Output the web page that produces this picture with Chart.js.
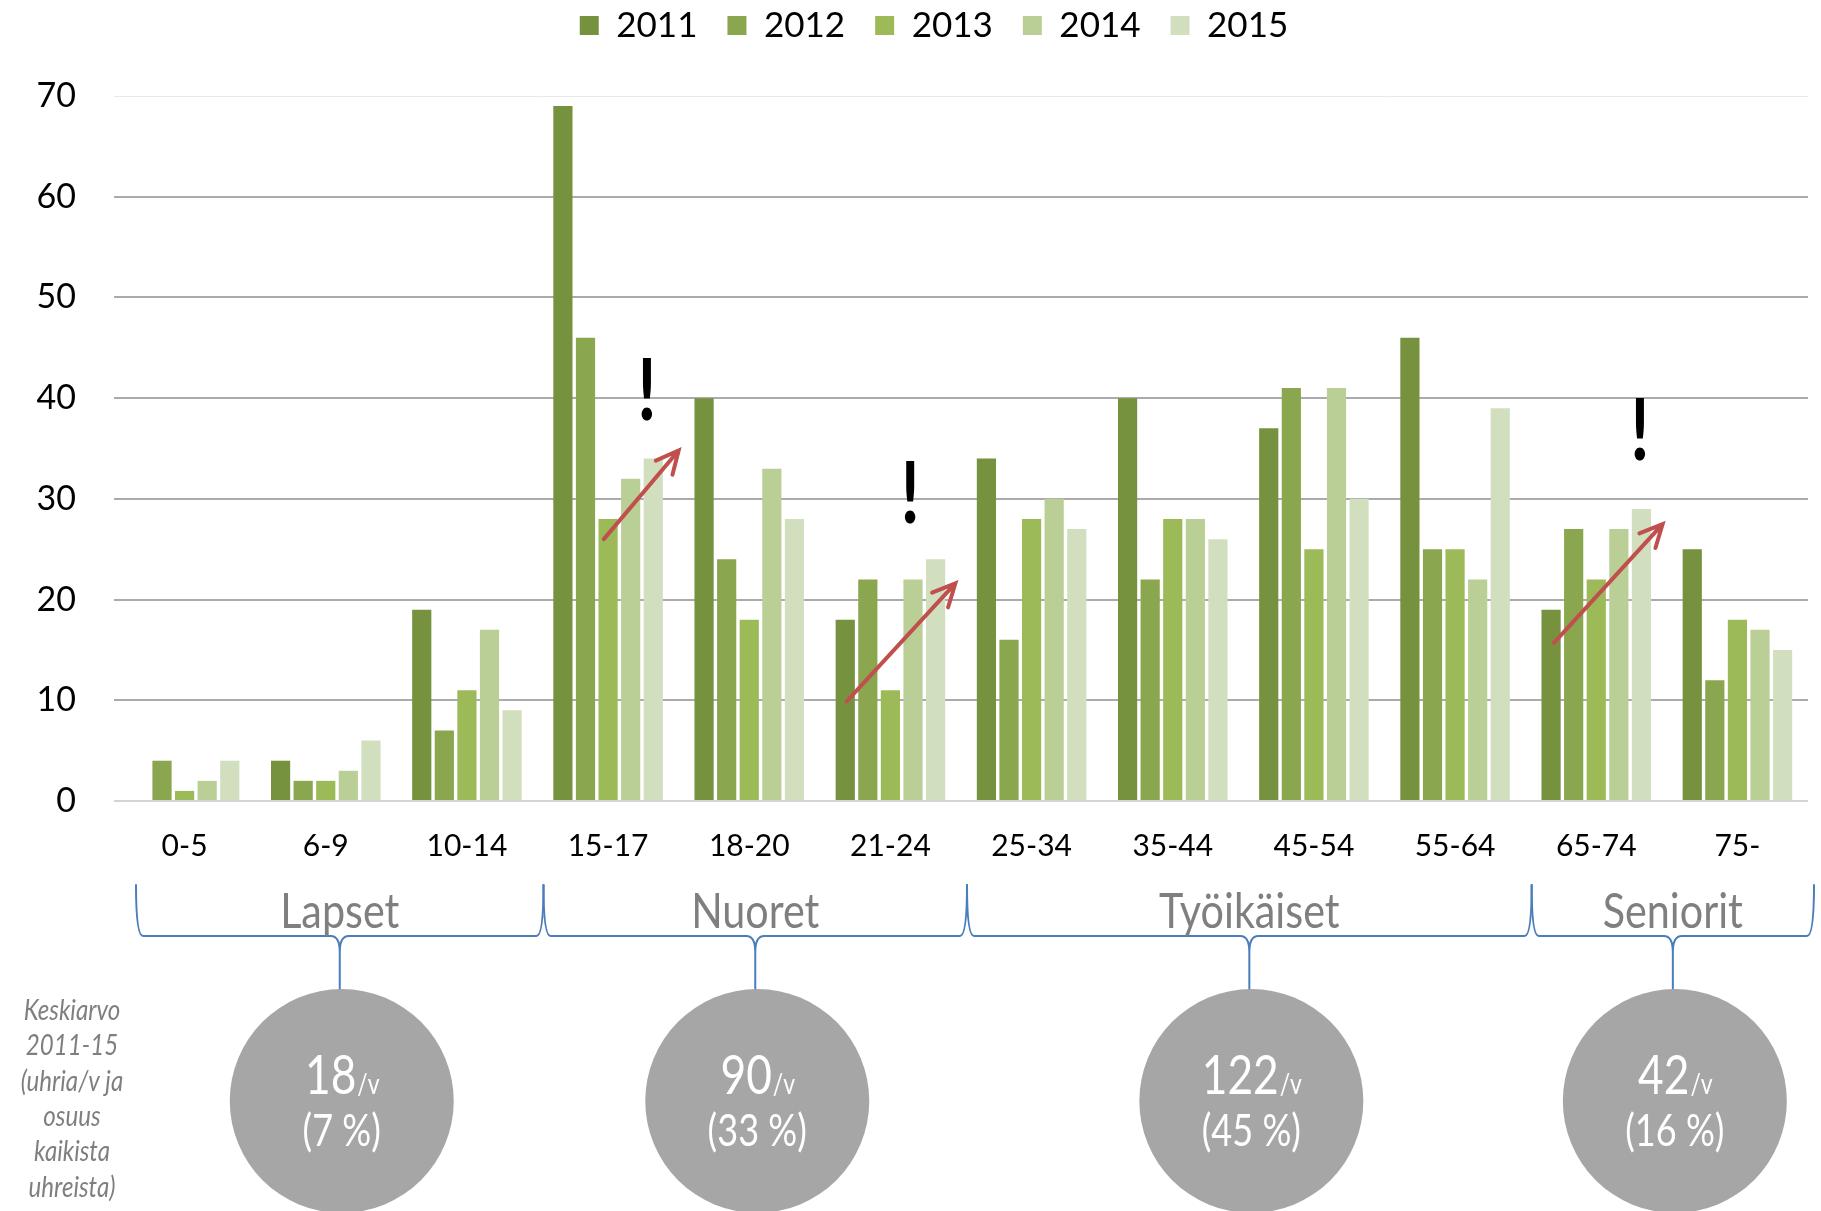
<!DOCTYPE html>
<html>
<head>
<meta charset="utf-8">
<script src="https://cdn.jsdelivr.net/npm/chart.js@4.4.1/dist/chart.umd.min.js"></script>
<style>
  html, body { margin: 0; padding: 0; background: #fff; }
  #wrap { width: 1821px; height: 1211px; position: relative; }
</style>
</head>
<body>
<div id="wrap"><canvas id="chart"></canvas></div>
<script>
// ikäryhmät ja vuodet
const ageGroups = ['0-5', '6-9', '10-14', '15-17', '18-20', '21-24', '25-34', '35-44', '45-54', '55-64', '65-74', '75-'];
const years = ['2011', '2012', '2013', '2014', '2015'];

// uhrit / ikäryhmä / vuosi
const v2011 = [0, 4, 19, 69, 40, 18, 34, 40, 37, 46, 19, 25];
const v2012 = [4, 2, 7, 46, 24, 22, 16, 22, 41, 25, 27, 12];
const v2013 = [1, 2, 11, 28, 18, 11, 28, 28, 25, 25, 22, 18];
const v2014 = [2, 3, 17, 32, 33, 22, 30, 28, 41, 22, 27, 17];
const v2015 = [4, 6, 9, 34, 28, 24, 27, 26, 30, 39, 29, 15];

const yMax = 70;
const yStep = 10;

// ryhmät ja keskiarvot
const groupNames = ['Lapset', 'Nuoret', 'Työikäiset', 'Seniorit'];
const groupFirst = [0, 3, 6, 10];
const groupLast = [2, 5, 9, 11];
const groupAvg = ['18', '90', '122', '42'];
const groupShare = ['(7 %)', '(33 %)', '(45 %)', '(16 %)'];
const noteLines = ['Keskiarvo', '2011-15', '(uhria/v ja', 'osuus', 'kaikista', 'uhreista)'];

// nuolet (kategoria-indeksi, arvo) ja huutomerkit
const arrowFrom = [[2.97, 26], [4.69, 9.9], [9.7, 15.7]];
const arrowTo = [[3.5, 34.8], [5.46, 21.6], [10.47, 27.5]];
const bangAt = [[3.275, 37.8], [5.14, 27.6], [10.31, 33.9]];

const yearColors = ['#77923f', '#8aa64f', '#9cbb58', '#bacf96', '#d2dfbe'];
const allValues = [v2011, v2012, v2013, v2014, v2015];

// kapeampi teksti (alkuperäinen fontti on kapea)
function narrowText(ctx, text, x, y, font, sx) {
    ctx.save();
    ctx.font = font;
    ctx.translate(x, y);
    ctx.scale(sx, 1);
    ctx.fillText(text, 0, 0);
    ctx.restore();
}

// legendalle lisää tilaa alapuolelle ja siirto oikealle
const legendGap = {
    id: 'legendGap',
    beforeInit(chart) {
        const fit = chart.legend.fit;
        chart.legend.fit = function () {
            fit.bind(chart.legend)();
            this.height += 43;
        };
    },
    afterLayout(chart) {
        chart.legend.left += 30;
        chart.legend.right += 30;
    }
};

const extras = {
    id: 'extras',
    afterDraw(chart) {
        const ctx = chart.ctx;
        const xs = chart.scales.x;
        const ys = chart.scales.y;
        ctx.save();

        // nuolet
        ctx.strokeStyle = '#c0504d';
        ctx.lineWidth = 4;
        ctx.lineCap = 'round';
        arrowFrom.forEach((f, i) => {
            const x0 = xs.getPixelForValue(f[0]), y0 = ys.getPixelForValue(f[1]);
            const x1 = xs.getPixelForValue(arrowTo[i][0]), y1 = ys.getPixelForValue(arrowTo[i][1]);
            const a = Math.atan2(y1 - y0, x1 - x0);
            ctx.beginPath();
            ctx.moveTo(x0, y0);
            ctx.lineTo(x1, y1);
            ctx.moveTo(x1 - 25 * Math.cos(a - 0.45), y1 - 25 * Math.sin(a - 0.45));
            ctx.lineTo(x1, y1);
            ctx.lineTo(x1 - 25 * Math.cos(a + 0.45), y1 - 25 * Math.sin(a + 0.45));
            ctx.stroke();
        });

        // huutomerkit
        ctx.fillStyle = '#000';
        ctx.textAlign = 'center';
        ctx.textBaseline = 'alphabetic';
        bangAt.forEach(b => {
            narrowText(ctx, '!', xs.getPixelForValue(b[0]), ys.getPixelForValue(b[1]), 'bold 86px Lato', 0.8);
        });

        // aaltosulkeet, ryhmänimet ja pallot
        groupNames.forEach((name, i) => {
            let x0 = xs.getPixelForValue(groupFirst[i] - 0.5) + 6;
            if (i === 0) x0 += 16;
            const x1 = xs.getPixelForValue(groupLast[i] + 0.5) + 6;
            const xm = (x0 + x1) / 2;
            const top = 885, mid = 936, cusp = 952;

            ctx.strokeStyle = '#4a7ebb';
            ctx.lineWidth = 2;
            ctx.beginPath();
            ctx.moveTo(x0, top);
            ctx.quadraticCurveTo(x0, mid, x0 + 7, mid);
            ctx.lineTo(xm - 9, mid);
            ctx.quadraticCurveTo(xm, mid, xm, cusp);
            ctx.quadraticCurveTo(xm, mid, xm + 9, mid);
            ctx.lineTo(x1 - 7, mid);
            ctx.quadraticCurveTo(x1, mid, x1, top);
            ctx.moveTo(xm, cusp);
            ctx.lineTo(xm, 990);
            ctx.stroke();

            ctx.fillStyle = '#7f7f7f';
            ctx.textAlign = 'center';
            narrowText(ctx, name, xm, 928, '48px Lato', 0.86);

            const cx = xm + 2, cy = 1101;
            ctx.fillStyle = '#a6a6a6';
            ctx.beginPath();
            ctx.arc(cx, cy, 112, 0, Math.PI * 2);
            ctx.fill();

            ctx.fillStyle = '#fff';
            const sx = 0.82;
            ctx.font = '54px Lato';
            const w1 = ctx.measureText(groupAvg[i]).width * sx;
            ctx.font = '28px Lato';
            const w2 = ctx.measureText('/v').width * sx;
            const left = cx - (w1 + w2) / 2;
            ctx.textAlign = 'left';
            narrowText(ctx, groupAvg[i], left, 1094, '54px Lato', sx);
            narrowText(ctx, '/v', left + w1 + 1, 1094, '28px Lato', sx);
            ctx.textAlign = 'center';
            narrowText(ctx, groupShare[i], cx, 1146, '44px Lato', sx);
        });

        // selite vasemmalla
        ctx.fillStyle = '#7f7f7f';
        ctx.textAlign = 'center';
        ctx.textBaseline = 'middle';
        noteLines.forEach((t, i) => narrowText(ctx, t, 72, 1011 + i * 35.3, 'italic 28px Lato', 0.86));

        ctx.restore();
    }
};

const chart = new Chart(document.getElementById('chart'), {
    type: 'bar',
    data: {
        labels: ageGroups,
        datasets: years.map((y, i) => ({
            label: y,
            data: allValues[i],
            backgroundColor: yearColors[i],
            borderWidth: 0,
            categoryPercentage: 0.8,
            barPercentage: 0.85
        }))
    },
    options: {
        responsive: true,
        maintainAspectRatio: false,
        animation: false,
        layout: { padding: { left: 0, right: 13, top: -22, bottom: 328 } },
        plugins: {
            legend: {
                position: 'top',
                labels: {
                    font: { family: 'Lato', size: 35 },
                    color: '#000',
                    boxWidth: 19,
                    boxHeight: 19,
                    padding: 30
                }
            },
            tooltip: { enabled: false }
        },
        scales: {
            x: {
                grid: { display: false },
                border: { display: false },
                ticks: {
                    font: { family: 'Lato', size: 30 },
                    color: '#000',
                    padding: 19,
                    maxRotation: 0,
                    autoSkip: false
                }
            },
            y: {
                min: 0,
                max: yMax,
                border: { display: false },
                afterFit(scale) { scale.width = 114; },
                grid: {
                    drawTicks: false,
                    color: ctx => ctx.tick.value === yMax ? '#e8e8e8' : (ctx.tick.value === 0 ? '#d4d4d4' : '#ababab'),
                    lineWidth: ctx => ctx.tick.value === yMax ? 1 : 2
                },
                ticks: {
                    stepSize: yStep,
                    font: { family: 'Lato', size: 34 },
                    color: '#000',
                    padding: 38
                }
            }
        }
    },
    plugins: [legendGap, extras]
});
</script>
</body>
</html>
